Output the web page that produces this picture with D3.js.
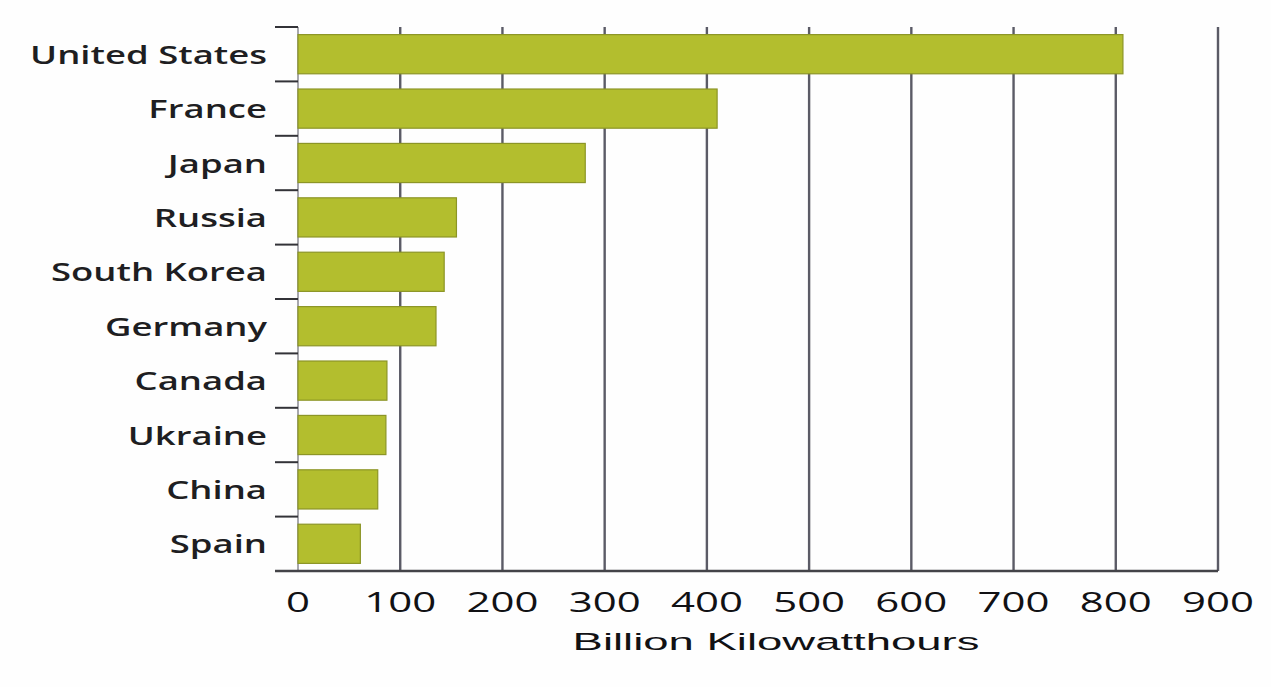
<!DOCTYPE html>
<html>
<head>
<meta charset="utf-8">
<script src="https://cdn.jsdelivr.net/npm/d3@7"></script>
<style>
  html, body { margin: 0; padding: 0; background: #ffffff; }
  svg { display: block; }
</style>
</head>
<body>
<svg id="chart" width="1271" height="687"></svg>
<script>
// Nuclear electricity generation by country
const countries = ["United States", "France", "Japan", "Russia", "South Korea",
                   "Germany", "Canada", "Ukraine", "China", "Spain"];
const generation = [807, 410, 281, 155, 143, 135, 87, 86, 78, 61];
const xTicks = [0, 100, 200, 300, 400, 500, 600, 700, 800, 900];
const xTitle = "Billion Kilowatthours";

const W = 1271, H = 687;
const plot = { left: 298, right: 1218, top: 27, bottom: 571 };

const svg = d3.select("#chart");
svg.append("rect").attr("width", W).attr("height", H).attr("fill", "#fefefe");

const x = d3.scaleLinear().domain([0, 900]).range([plot.left, plot.right]);
const y = d3.scaleBand().domain(countries)
  .range([plot.top, plot.bottom])
  .paddingInner(0.28).paddingOuter(0.14);

const gridColor = "#5b5b66";

// vertical gridlines
svg.append("g").selectAll("line")
  .data(xTicks.slice(1))
  .join("line")
  .attr("x1", d => x(d)).attr("x2", d => x(d))
  .attr("y1", plot.top).attr("y2", plot.bottom)
  .attr("stroke", gridColor).attr("stroke-width", 2.4);

// left axis line and category separators
svg.append("line")
  .attr("x1", plot.left).attr("x2", plot.left)
  .attr("y1", plot.top).attr("y2", plot.bottom)
  .attr("stroke", "#8a8a92").attr("stroke-width", 1.5);

const step = y.step();
const seps = d3.range(countries.length).map(i => plot.top + i * step);
svg.append("g").selectAll("line")
  .data(seps)
  .join("line")
  .attr("x1", 275).attr("x2", plot.left)
  .attr("y1", d => d).attr("y2", d => d)
  .attr("stroke", "#333338").attr("stroke-width", 2);

// bottom axis line
svg.append("line")
  .attr("x1", 275).attr("x2", plot.right)
  .attr("y1", plot.bottom).attr("y2", plot.bottom)
  .attr("stroke", "#444448").attr("stroke-width", 2.4);

// bars
svg.append("g").selectAll("rect")
  .data(countries.map((c, i) => ({ c, v: generation[i] })))
  .join("rect")
  .attr("x", x(0))
  .attr("y", d => y(d.c))
  .attr("width", d => x(d.v) - x(0))
  .attr("height", y.bandwidth())
  .attr("fill", "#b3be2e")
  .attr("stroke", "#8c9526")
  .attr("stroke-width", 1.2);

// helper: measure natural width of a string in a given font
function measure(text, font, size, weight) {
  const t = svg.append("text").attr("font-family", font)
    .attr("font-size", size).attr("font-weight", weight).text(text);
  const w = t.node().getComputedTextLength();
  t.remove();
  return w;
}

// category labels (wide lettering)
const catFont = "'Open Sans', sans-serif", catSize = 26, catWeight = 600;
const catScale = 237 / measure("United States", catFont, catSize, catWeight);
svg.append("g").selectAll("text")
  .data(countries)
  .join("text")
  .attr("transform", d => `translate(267,${y(d) + y.bandwidth() / 2 + 9.5}) scale(${catScale},1)`)
  .attr("text-anchor", "end")
  .attr("font-family", catFont)
  .attr("font-size", catSize)
  .attr("font-weight", catWeight)
  .attr("fill", "#1e1e22")
  .text(d => d);

// x tick labels
const tickFont = "'Open Sans', sans-serif", tickSize = 26.5;
const tickScale = 72 / measure("100", tickFont, tickSize, 400);
svg.append("g").selectAll("text")
  .data(xTicks)
  .join("text")
  .attr("transform", d => `translate(${x(d)},612) scale(${tickScale},1)`)
  .attr("text-anchor", "middle")
  .attr("font-family", tickFont)
  .attr("font-size", tickSize)
  .attr("fill", "#111114")
  .text(d => d);

// x axis title
const titleFont = "'Liberation Sans', Arial, sans-serif", titleSize = 24.5;
const titleScale = 407 / measure(xTitle, titleFont, titleSize, 400);
svg.append("text")
  .attr("transform", `translate(776,650) scale(${titleScale},1)`)
  .attr("text-anchor", "middle")
  .attr("font-family", titleFont)
  .attr("font-size", titleSize)
  .attr("fill", "#111114")
  .text(xTitle);
</script>
</body>
</html>
